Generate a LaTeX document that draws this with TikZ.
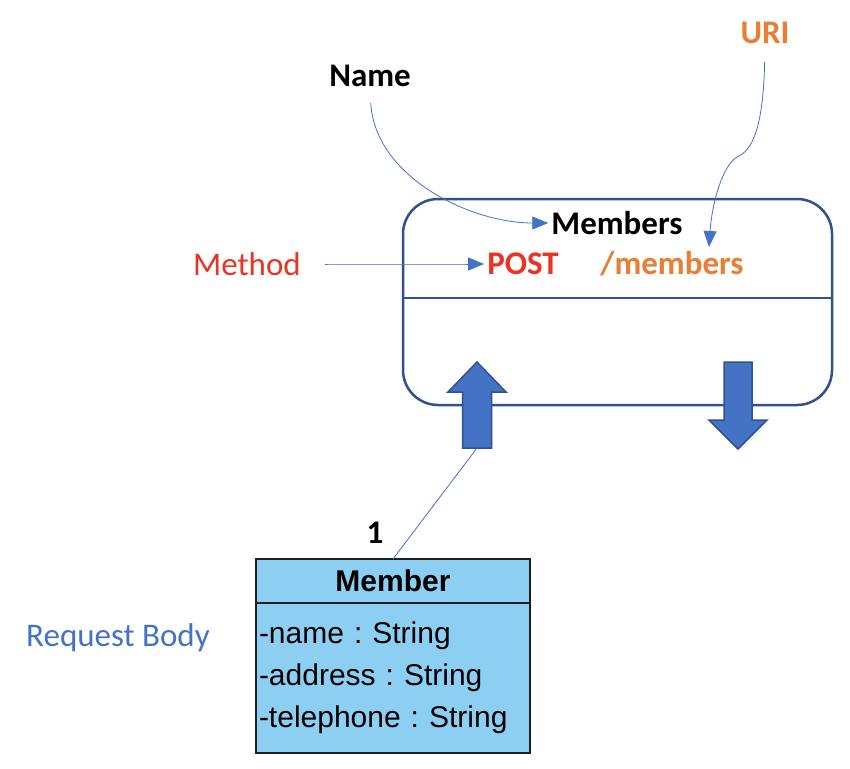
\documentclass[tikz,border=0pt]{standalone}
\usepackage{fontspec}
\setmainfont{Carlito}
\newfontfamily\umlfont{Liberation Sans}
\usetikzlibrary{positioning,arrows.meta}

\definecolor{FrameBlue}{RGB}{47,82,143}
\definecolor{LinkBlue}{RGB}{68,114,196}
\definecolor{MethodRed}{RGB}{235,51,36}
\definecolor{UriOrange}{RGB}{232,127,52}
\definecolor{ClassFill}{RGB}{141,207,242}
\definecolor{ClassLine}{RGB}{30,30,30}

\frenchspacing
\begin{document}
\begin{tikzpicture}[
    x=1pt, y=-1pt,
    label/.style={font=\fontsize{33}{40}\selectfont, inner sep=3pt},
    bold/.style={label, font=\fontsize{33}{40}\selectfont\bfseries},
    link/.style={draw=LinkBlue, line width=0.8pt, -{Triangle[length=16pt,width=13pt]}},
    blockarrow/.style={draw=FrameBlue, line width=1.5pt, fill=LinkBlue, line join=miter},
    classbox/.style={draw=ClassLine, line width=2pt, fill=ClassFill, outer sep=0pt, minimum width=274pt, font=\umlfont\fontsize{30}{42}\selectfont}
  ]
    \useasboundingbox[fill=white] (0,0) rectangle (850,768);

    % Resource
    \node[draw=FrameBlue, line width=2.5pt, rounded corners=35pt, minimum width=429pt, minimum height=206pt] (res) at (617.5,302) {};
    \draw[draw=FrameBlue, line width=2.5pt] ([yshift=4pt]res.west) -- ([yshift=4pt]res.east);
    \node[bold] (members) at (617,223) {Members};
    \node[bold, text=MethodRed] (post) at (523,264) {POST};
    \node[bold, text=UriOrange] (path) at (672,264) {/members};

    % Request / response arrows
    \coordinate (up foot) at (477,448);
    \coordinate (down top) at (738,362);
    \draw[blockarrow] (up foot) ++(-14.5,0) -- ++(0,-56) -- ++(-14.5,0) -- ++(29,-30) -- ++(29,30) -- ++(-14.5,0) -- ++(0,56) -- cycle;
    \draw[blockarrow] (down top) ++(-14,0) -- ++(0,58) -- ++(-15,0) -- ++(29,29) -- ++(29,-29) -- ++(-15,0) -- ++(0,-58) -- cycle;

    % Labels
    \node[bold] (name) at (370,76) {Name};
    \node[bold, text=UriOrange] (uri) at (765,33) {URI};
    \node[label, text=MethodRed] (method) at (247,264) {Method};
    \node[label, text=LinkBlue] (body) at (118,638) {Request Body};
    \node[bold] (mult) at (375,533) {1};

    % Pointers
    \coordinate (uri bend) at (737,157);
    \coordinate (uri tip) at (709,247);
    \draw[link] (name.south) [shorten <=13pt] .. controls +(5,87) and +(-78,0) .. (members.west);
    \draw[draw=LinkBlue, line width=0.8pt] (uri.south) [shorten <=15pt] .. controls +(-2,85) and +(14,-6) .. (uri bend);
    \draw[link] (uri bend) .. controls +(-14,8) and +(3,-45) .. (uri tip);
    \draw[link] (method.east) [shorten <=21pt] to[out=0, in=180] (post.west);

    % Member class
    \node[classbox, minimum height=44pt, font=\umlfont\fontsize{30}{42}\selectfont\bfseries] (member) at (393,581) {Member};
    \node[classbox, below=0pt of member, minimum height=150pt, text width=268pt, inner xsep=3pt, align=left] (attrs) {-name : String\\-address : String\\-telephone : String};
    \draw[draw=LinkBlue, line width=0.8pt] (up foot) -- (member.north);
  \end{tikzpicture}
\end{document}
